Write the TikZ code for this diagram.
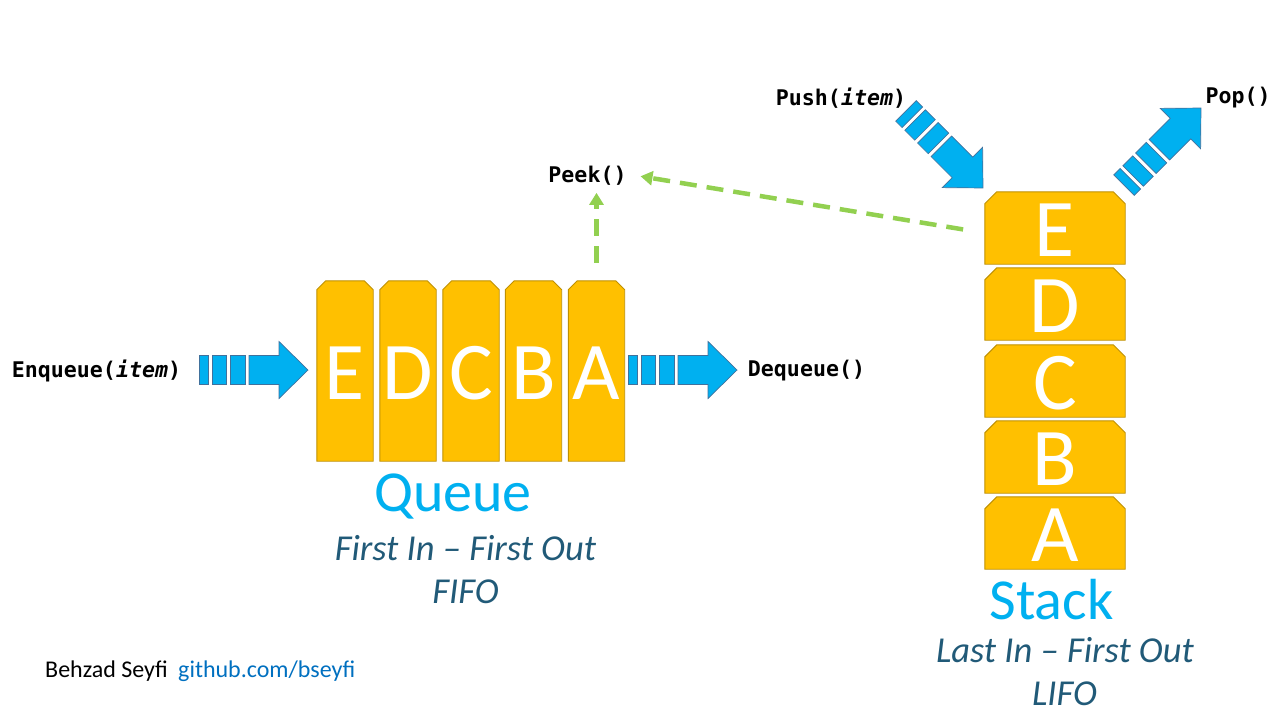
\documentclass[tikz,border=0pt]{standalone}
\usepackage{fontspec}
\setmainfont{Carlito}
\setmonofont{DejaVu Sans Mono}
\usetikzlibrary{arrows.meta,backgrounds}
\definecolor{boxfill}{HTML}{FFC000}
\definecolor{boxline}{HTML}{BF9000}
\definecolor{arrowblue}{HTML}{00B0F0}
\definecolor{arrowline}{HTML}{41719C}
\definecolor{peekgreen}{HTML}{92D050}
\definecolor{subcol}{HTML}{215A78}
\definecolor{linkcol}{HTML}{0070C0}
\tikzset{
  qbox/.style={minimum width=56pt, minimum height=180pt, inner sep=0pt, text=white,
    font=\fontsize{82}{82}\selectfont, text height=57pt, text depth=0pt},
  sbox/.style={minimum width=140pt, minimum height=72pt, inner sep=0pt, text=white,
    font=\fontsize{82}{82}\selectfont, text height=57pt, text depth=0pt},
  boxshape/.style={fill=boxfill, draw=boxline, line width=0.9pt, line join=miter},
  mono/.style={inner sep=0pt, font=\fontsize{21.6}{21.6}\selectfont\ttfamily\bfseries},
  titletext/.style={inner sep=0pt, text=arrowblue, font=\fontsize{58}{58}\selectfont},
  subtext/.style={inner sep=0pt, text=subcol, font=\fontsize{36.5}{36.5}\selectfont\itshape},
  credit/.style={inner sep=0pt, anchor=west, font=\fontsize{24}{24}\selectfont},
  arrowpart/.style={fill=arrowblue, draw=arrowline, line width=0.7pt},
  peekline/.style={draw=peekgreen, line width=4.5pt, dash pattern=on 17pt off 10pt,
    -{Triangle[length=12pt,width=14pt]}},
  blockarrow/.pic={
    \filldraw[arrowpart] (0,-14.5) rectangle (9,14.5);
    \filldraw[arrowpart] (13,-14.5) rectangle (27,14.5);
    \filldraw[arrowpart] (31,-14.5) rectangle (46,14.5);
    \filldraw[arrowpart] (50,-14.5) -- (80,-14.5) -- (80,-28.5) -- (109,0)
      -- (80,28.5) -- (80,14.5) -- (50,14.5) -- cycle;
  }
}
\newcommand{\chamfbox}[2]{%
  \filldraw[boxshape] (#1.south west) -- ([yshift=-#2]#1.north west)
    -- ([xshift=#2]#1.north west) -- ([xshift=-#2]#1.north east)
    -- ([yshift=-#2]#1.north east) -- (#1.south east) -- cycle;}
\begin{document}
\begin{tikzpicture}[x=1pt,y=-1pt]
\useasboundingbox (0,0) rectangle (1280,720);

% queue boxes
\node[qbox] (qE) at (345,371) {E};
\node[qbox] (qD) at (408,371) {D};
\node[qbox] (qC) at (471,371) {C};
\node[qbox] (qB) at (533.5,371) {B};
\node[qbox] (qA) at (596.5,371) {A};

% stack boxes
\node[sbox] (sE) at (1055,228) {E};
\node[sbox] (sD) at (1055,304) {D};
\node[sbox] (sC) at (1055,381) {C};
\node[sbox] (sB) at (1055,457) {B};
\node[sbox] (sA) at (1055,533) {A};

\begin{scope}[on background layer]
  \fill[white] (0,0) rectangle (1280,720);
  \foreach \n in {qE,qD,qC,qB,qA} {\chamfbox{\n}{9pt}}
  \foreach \n in {sE,sD,sC,sB,sA} {\chamfbox{\n}{12pt}}
\end{scope}

% operation labels
\node[mono] (enq) at (96.5,371) {Enqueue(\textit{item})};
\node[mono] (deq) at (806.5,371) {Dequeue()};
\node[mono] (peek) at (587.5,176) {Peek()};
\node[mono] (push) at (841,98) {Push(\textit{item})};
\node[mono] (pop) at (1238,98) {Pop()};

% block arrows
\pic at (199,370) {blockarrow};
\pic at (628,370) {blockarrow};
\pic[rotate=-45] at (905.9,110.9) {blockarrow};
\pic[rotate=45] at (1123.9,185.1) {blockarrow};

% peek arrows
\draw[peekline, shorten <=18pt, shorten >=7pt] (qA.north) -- (qA.north |- peek.south);
\draw[peekline, shorten <=22pt, shorten >=14pt] ([yshift=-5pt]sE.west) -- ([yshift=2pt]peek.east);

% titles
\node[titletext] (qt) at (453,497) {Queue};
\node[subtext] (qs1) at (465.5,548) {First In – First Out};
\node[subtext] (qs2) at (465.5,592) {FIFO};
\node[titletext] (st) at (1051.5,600) {Stack};
\node[subtext] (ss1) at (1065,650) {Last In – First Out};
\node[subtext] (ss2) at (1064.5,694) {LIFO};

% credits
\node[credit] (author) at (45,671) {Behzad Seyfi};
\node[credit, text=linkcol] (link) at (178,671) {github.com/bseyfi};
\end{tikzpicture}
\end{document}
